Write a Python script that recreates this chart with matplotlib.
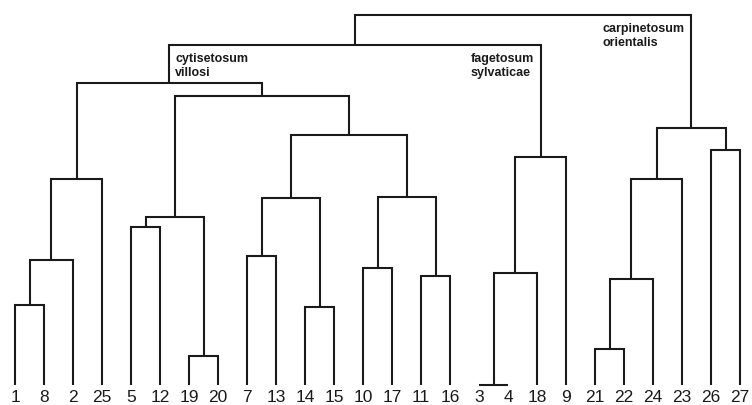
"""
Dendrogram sastojina (cytisetosum, fagetosum, carpinetosum).
"""

import matplotlib.pyplot as plt

# redoslijed listova na osi x
leaves = ['1', '8', '2', '25', '5', '12', '19', '20', '7', '13', '14', '15',
          '10', '17', '11', '16', '3', '4', '18', '9', '21', '22', '24', '23',
          '26', '27']

# spajanja: lijevo, desno, visina (cN = N-to spajanje)
merge_left = ['1', 'c0', 'c1', '5', '19', 'c3', '7', '14', 'c6', '10', '11',
              'c9', 'c8', 'c5', 'c2', '3', 'c15', 'c16', 'c14', '21', 'c19',
              'c20', '26', 'c21', 'c18']
merge_right = ['8', '2', '25', '12', '20', 'c4', '13', '15', 'c7', '17', '16',
               'c10', 'c11', 'c12', 'c13', '4', '18', '9', 'c17', '22', '24',
               '23', '27', 'c22', 'c23']
merge_height = [80, 125, 206, 158, 29, 168, 129, 78, 187, 117, 109, 188, 250,
                289, 302, 0, 112, 228, 340, 36, 106, 206, 235, 257, 370]

# oznake grupa: cvor, tekst, poravnanje
group_nodes = ['c14', 'c17', 'c23']
group_names = ['cytisetosum\nvillosi', 'fagetosum\nsylvaticae',
               'carpinetosum\norientalis']
group_align = ['left', 'right', 'right']


def draw_dendrogram(ax, color='#1a1a1a', lw=1.5):
    """Crta dendrogram, vraca polozaje cvorova i roditeljske visine."""
    pos = {name: (i, 0.0) for i, name in enumerate(leaves)}
    parent_h = {}
    for k, (a, b, h) in enumerate(zip(merge_left, merge_right, merge_height)):
        xa, ya = pos[a]
        xb, yb = pos[b]
        ax.plot([xa, xa, xb, xb], [ya, h, h, yb], color=color, lw=lw,
                solid_joinstyle='miter', solid_capstyle='butt')
        pos['c%d' % k] = ((xa + xb) / 2, h)
        parent_h[a] = h
        parent_h[b] = h
    return pos, parent_h


fig = plt.figure(figsize=(7.52, 4.05), dpi=100)
ax = fig.add_axes([0, 0, 1, 1])
ax.set_xlim(-15 / 29, 737 / 29)
ax.set_ylim(-20, 385)
ax.axis('off')

pos, parent_h = draw_dendrogram(ax)

for i, name in enumerate(leaves):
    ax.text(i, -13, name, ha='center', va='center', fontsize=12.5,
            family='Liberation Sans', color='#1a1a1a')

for node, txt, al in zip(group_nodes, group_names, group_align):
    x = pos[node][0]
    dx = 6 if al == 'left' else -7
    ax.annotate(txt, (x, parent_h[node]), xytext=(dx, -8),
                textcoords='offset pixels', ha=al, va='top', fontsize=9,
                fontweight='bold', family='Liberation Sans', color='#1a1a1a',
                linespacing=1.25, multialignment='left')

fig.savefig('out.png', dpi=100)
plt.close(fig)
